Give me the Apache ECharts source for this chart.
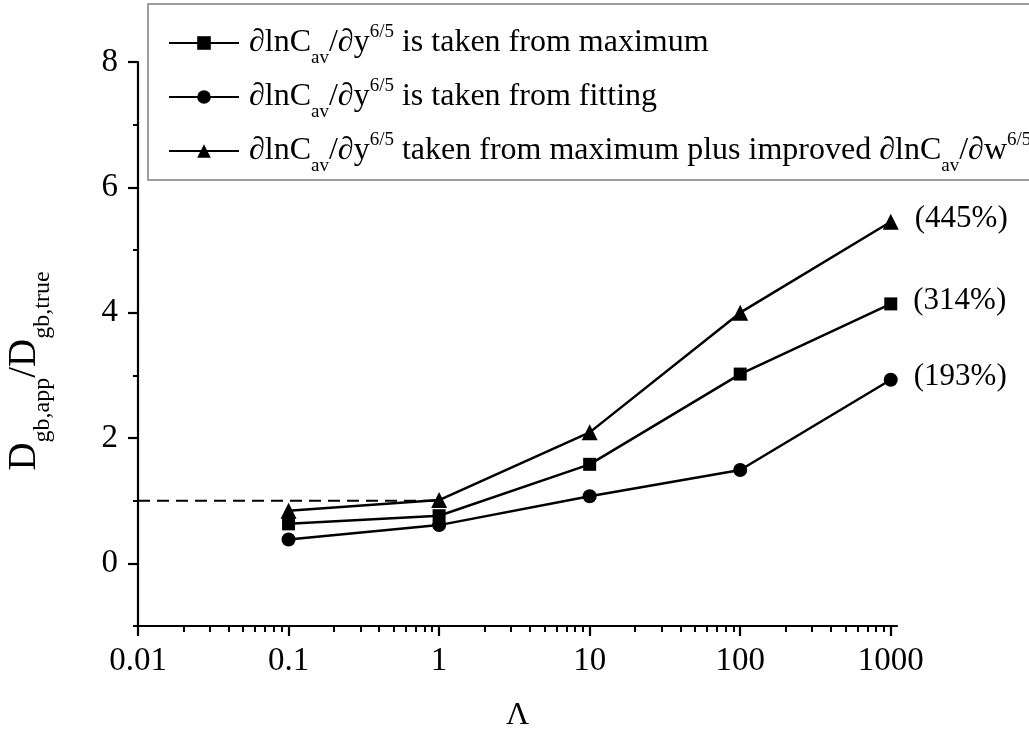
<!DOCTYPE html>
<html>
<head>
<meta charset="utf-8">
<script src="https://cdn.jsdelivr.net/npm/echarts@6/dist/echarts.min.js"></script>
<style>
  html, body { margin: 0; padding: 0; background: #ffffff; }
  #chart { width: 1029px; height: 740px; }
</style>
</head>
<body>
<div id="chart"></div>
<script>
// Λ values shared by all three series
const lambdaValues = [0.1, 1, 10, 100, 1000];

// D_gb,app / D_gb,true for each way of obtaining ∂lnCav/∂y^(6/5)
const ratioFromMaximum = [0.63, 0.76, 1.58, 3.02, 4.14];
const ratioFromFitting = [0.38, 0.61, 1.07, 1.49, 2.93];
const ratioMaximumImproved = [0.84, 1.01, 2.09, 4.00, 5.45];

const seriesNames = ['fromMaximum', 'fromFitting', 'maximumImproved'];
const legendTexts = [
  '{sp|}{m|∂lnC}{sub|av}{m|/∂y}{sup|6/5}{m| is taken from maximum}',
  '{sp|}{m|∂lnC}{sub|av}{m|/∂y}{sup|6/5}{m| is taken from fitting}',
  '{sp|}{m|∂lnC}{sub|av}{m|/∂y}{sup|6/5}{m| taken from maximum plus improved ∂lnC}{sub|av}{m|/∂w}{sup|6/5}'
];

// axis ticks and labels
const xMajorTicks = [0.01, 0.1, 1, 10, 100, 1000];
const xTickLabels = ['0.01', '0.1', '1', '10', '100', '1000'];
const yMajorTicks = [0, 2, 4, 6, 8];
const yTickLabels = ['0', '2', '4', '6', '8'];
const yMinorTicks = [-1, 1, 3, 5, 7];

// dashed guide at ratio = 1
const referenceLineX = [0.01, 1];
const referenceLevel = 1;

// minor ticks 2..9 inside each decade
const xMinorTicks = [];
for (let d = 0; d < xMajorTicks.length - 1; d++) {
  for (let k = 2; k <= 9; k++) xMinorTicks.push(+(xMajorTicks[d] * k).toPrecision(3));
}

const FONT = 'Liberation Serif';
const BLACK = '#000000';

function pairs(values, showLast) {
  return lambdaValues.map((x, i) =>
    (showLast && i === lambdaValues.length - 1)
      ? { value: [x, values[i]], label: { show: true } }
      : [x, values[i]]
  );
}

function lookupLabel(ticks, labels, value) {
  for (let i = 0; i < ticks.length; i++) {
    if (Math.abs(ticks[i] - value) < 1e-9 * Math.max(1, Math.abs(ticks[i]))) return labels[i];
  }
  return '';
}

const pctLabel = {
  show: false,
  position: 'right',
  distance: 16,
  offset: [0, -3],
  fontFamily: FONT,
  fontSize: 31,
  color: BLACK,
  formatter: p => '(' + Math.round((p.value[1] - 1) * 100) + '%)'
};

function dataSeries(name, values, symbol, size) {
  return {
    name: name,
    type: 'line',
    xAxisIndex: 0,
    yAxisIndex: 0,
    data: pairs(values, true),
    symbol: symbol,
    symbolSize: size,
    showSymbol: true,
    z: 3,
    lineStyle: { color: BLACK, width: 2.5 },
    itemStyle: { color: BLACK },
    label: pctLabel,
    emphasis: { disabled: true }
  };
}

const legendRich = {
  sp: { width: 5 },
  m: { fontFamily: FONT, fontSize: 32, color: BLACK, lineHeight: 50 },
  sub: { fontFamily: FONT, fontSize: 19, color: BLACK, lineHeight: 50, verticalAlign: 'bottom' },
  sup: { fontFamily: FONT, fontSize: 19, color: BLACK, lineHeight: 50, verticalAlign: 'top', padding: [5, 0, 0, 0] }
};

const chart = echarts.init(document.getElementById('chart'), null, { renderer: 'canvas' });

chart.setOption({
  animation: false,
  backgroundColor: '#ffffff',
  textStyle: { fontFamily: FONT, color: BLACK },
  grid: { left: 138, right: 132, top: 62, bottom: 114, outerBoundsMode: 'none', containLabel: false },
  legend: {
    orient: 'vertical',
    left: 148,
    top: 4,
    padding: [14, 8, 4, 20],
    itemWidth: 70,
    itemHeight: 17,
    itemGap: 4,
    borderColor: '#808080',
    borderWidth: 1.5,
    backgroundColor: '#ffffff',
    selectedMode: false,
    data: seriesNames,
    formatter: name => legendTexts[seriesNames.indexOf(name)],
    textStyle: { fontFamily: FONT, color: BLACK, rich: legendRich }
  },
  xAxis: [
    {
      type: 'log',
      logBase: 10,
      min: 0.01,
      max: 1100,
      position: 'bottom',
      name: 'Λ',
      nameLocation: 'middle',
      nameGap: 74,
      nameTextStyle: { fontFamily: FONT, fontSize: 32, color: BLACK },
      axisLine: { show: true, onZero: false, lineStyle: { color: BLACK, width: 2.2 } },
      axisTick: { show: true, inside: false, length: 10, customValues: xMajorTicks, lineStyle: { color: BLACK, width: 2.2 } },
      axisLabel: {
        show: true, margin: 19, customValues: xMajorTicks,
        fontFamily: FONT, fontSize: 33, color: BLACK,
        formatter: v => lookupLabel(xMajorTicks, xTickLabels, v)
      },
      splitLine: { show: false },
      minorTick: { show: false }
    },
    {
      type: 'log',
      logBase: 10,
      min: 0.01,
      max: 1100,
      position: 'bottom',
      axisLine: { show: false, onZero: false },
      axisTick: { show: true, inside: false, length: 6, customValues: xMinorTicks, lineStyle: { color: BLACK, width: 2 } },
      axisLabel: { show: false },
      splitLine: { show: false }
    }
  ],
  yAxis: [
    {
      type: 'value',
      min: -1,
      max: 8,
      position: 'left',
      name: '{m|D}{sub|gb,app}{m|/D}{sub|gb,true}',
      nameLocation: 'middle',
      nameRotate: 90,
      nameGap: 83,
      nameMoveOverlap: false,
      nameTextStyle: {
        padding: [0, 54, 0, 0],
        rich: {
          m: { fontFamily: FONT, fontSize: 39, color: BLACK, lineHeight: 60 },
          sub: { fontFamily: FONT, fontSize: 24, color: BLACK, lineHeight: 60, verticalAlign: 'bottom' }
        }
      },
      axisLine: { show: true, onZero: false, lineStyle: { color: BLACK, width: 2.2 } },
      axisTick: { show: true, inside: false, length: 10, customValues: yMajorTicks, lineStyle: { color: BLACK, width: 2.2 } },
      axisLabel: {
        show: true, margin: 20, customValues: yMajorTicks,
        fontFamily: FONT, fontSize: 33, color: BLACK,
        formatter: v => lookupLabel(yMajorTicks, yTickLabels, v)
      },
      splitLine: { show: false }
    },
    {
      type: 'value',
      min: -1,
      max: 8,
      position: 'left',
      axisLine: { show: false, onZero: false },
      axisTick: { show: true, inside: false, length: 5, customValues: yMinorTicks, lineStyle: { color: BLACK, width: 2 } },
      axisLabel: { show: false },
      splitLine: { show: false }
    }
  ],
  series: [
    dataSeries(seriesNames[0], ratioFromMaximum, 'rect', 13),
    dataSeries(seriesNames[1], ratioFromFitting, 'circle', 14),
    dataSeries(seriesNames[2], ratioMaximumImproved, 'triangle', 16),
    {
      name: 'reference',
      type: 'line',
      data: referenceLineX.map(x => [x, referenceLevel]),
      symbol: 'none',
      z: 1,
      lineStyle: { color: BLACK, width: 2, type: [12, 7] },
      emphasis: { disabled: true },
      silent: true
    }
  ]
});
</script>
</body>
</html>
